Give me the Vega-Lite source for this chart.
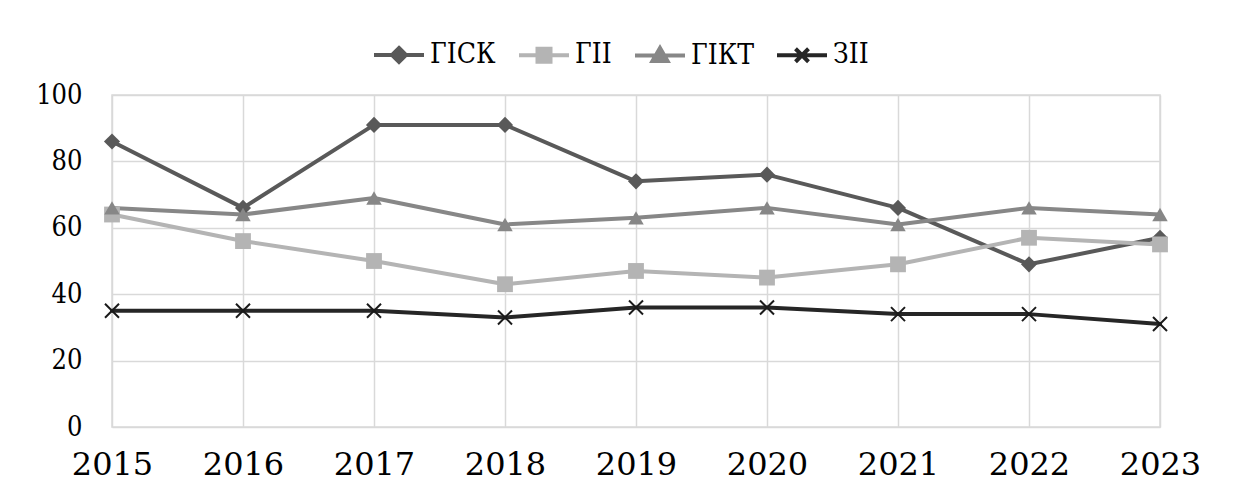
{
  "$schema": "https://vega.github.io/schema/vega-lite/v6.json",
  "width": 1048,
  "height": 332,
  "autosize": {"type": "none"},
  "padding": {"left": 112, "top": 95, "right": 87, "bottom": 55},
  "background": "white",
  "config": {
    "view": {"stroke": "#d9d9d9", "strokeWidth": 1.5},
    "font": "DejaVu Serif"
  },
  "data": {
    "values": [
      {"year": "2015", "s": "ГІСК", "v": 86},
      {"year": "2016", "s": "ГІСК", "v": 66},
      {"year": "2017", "s": "ГІСК", "v": 91},
      {"year": "2018", "s": "ГІСК", "v": 91},
      {"year": "2019", "s": "ГІСК", "v": 74},
      {"year": "2020", "s": "ГІСК", "v": 76},
      {"year": "2021", "s": "ГІСК", "v": 66},
      {"year": "2022", "s": "ГІСК", "v": 49},
      {"year": "2023", "s": "ГІСК", "v": 57},
      {"year": "2015", "s": "ГІІ", "v": 64},
      {"year": "2016", "s": "ГІІ", "v": 56},
      {"year": "2017", "s": "ГІІ", "v": 50},
      {"year": "2018", "s": "ГІІ", "v": 43},
      {"year": "2019", "s": "ГІІ", "v": 47},
      {"year": "2020", "s": "ГІІ", "v": 45},
      {"year": "2021", "s": "ГІІ", "v": 49},
      {"year": "2022", "s": "ГІІ", "v": 57},
      {"year": "2023", "s": "ГІІ", "v": 55},
      {"year": "2015", "s": "ГІКТ", "v": 66},
      {"year": "2016", "s": "ГІКТ", "v": 64},
      {"year": "2017", "s": "ГІКТ", "v": 69},
      {"year": "2018", "s": "ГІКТ", "v": 61},
      {"year": "2019", "s": "ГІКТ", "v": 63},
      {"year": "2020", "s": "ГІКТ", "v": 66},
      {"year": "2021", "s": "ГІКТ", "v": 61},
      {"year": "2022", "s": "ГІКТ", "v": 66},
      {"year": "2023", "s": "ГІКТ", "v": 64},
      {"year": "2015", "s": "ЗІІ", "v": 35},
      {"year": "2016", "s": "ЗІІ", "v": 35},
      {"year": "2017", "s": "ЗІІ", "v": 35},
      {"year": "2018", "s": "ЗІІ", "v": 33},
      {"year": "2019", "s": "ЗІІ", "v": 36},
      {"year": "2020", "s": "ЗІІ", "v": 36},
      {"year": "2021", "s": "ЗІІ", "v": 34},
      {"year": "2022", "s": "ЗІІ", "v": 34},
      {"year": "2023", "s": "ЗІІ", "v": 31}
    ]
  },
  "encoding": {
    "x": {
      "field": "year",
      "type": "ordinal",
      "scale": {"type": "point", "padding": 0},
      "axis": {
        "title": null,
        "labelAngle": 0,
        "labelFont": "DejaVu Serif",
        "labelFontSize": 32,
        "labelColor": "#000000",
        "labelPadding": 22,
        "labelDx": -6,
        "domain": false,
        "ticks": false,
        "grid": true,
        "gridColor": "#d9d9d9",
        "gridWidth": 1.5
      }
    },
    "y": {
      "field": "v",
      "type": "quantitative",
      "scale": {"domain": [0, 100], "nice": false},
      "axis": {
        "title": null,
        "values": [0, 20, 40, 60, 80, 100],
        "labelFont": "DejaVu Serif Condensed",
        "labelFontSize": 27,
        "labelColor": "#000000",
        "labelPadding": 30,
        "domain": false,
        "ticks": false,
        "grid": true,
        "gridColor": "#d9d9d9",
        "gridWidth": 1.5
      }
    }
  },
  "layer": [
    {
      "mark": {"type": "line", "strokeWidth": 4, "strokeJoin": "round", "strokeCap": "round"},
      "encoding": {
        "color": {
          "field": "s",
          "type": "nominal",
          "sort": ["ГІСК", "ГІІ", "ГІКТ", "ЗІІ"],
          "scale": {
            "domain": ["ГІСК", "ГІІ", "ГІКТ", "ЗІІ"],
            "range": ["#595959", "#b4b4b4", "#878787", "#262626"]
          },
          "legend": {
            "title": null,
            "orient": "none",
            "direction": "horizontal",
            "legendX": 260,
            "legendY": -67,
            "labelFont": "DejaVu Serif Condensed",
            "labelFontSize": 28,
            "labelColor": "#000000",
            "labelOffset": 4,
            "columnPadding": 15,
            "symbolSize": 2500,
            "symbolStrokeWidth": 4,
            "encode": {
              "labels": {
                "update": {
                  "font": {"value": "DejaVu Serif Condensed"}
                }
              },
              "symbols": {
                "update": {
                  "shape": {"signal": "datum.value === 'ГІСК' ? 'M-1,0H1M0,-0.28L0.28,0L0,0.28L-0.28,0Z' : datum.value === 'ГІІ' ? 'M-1,0H1M-0.26,-0.26H0.26V0.26H-0.26Z' : datum.value === 'ГІКТ' ? 'M-1,0H1M0,-0.3L0.3,0.22H-0.3Z' : 'M-1,0H1M-0.26,-0.26L0.26,0.26M0.26,-0.26L-0.26,0.26'"},
                  "fill": {"scale": "color", "field": "value"},
                  "stroke": {"scale": "color", "field": "value"},
                  "strokeWidth": {"value": 4},
                  "opacity": {"value": 1}
                }
              }
            }
          }
        }
      }
    },
    {
      "transform": [{"filter": "datum.s !== 'ЗІІ'"}],
      "mark": {"type": "point", "filled": true, "opacity": 1},
      "encoding": {
        "color": {"field": "s", "type": "nominal", "legend": null},
        "shape": {
          "field": "s",
          "type": "nominal",
          "scale": {
            "domain": ["ГІСК", "ГІІ", "ГІКТ"],
            "range": ["diamond", "square", "triangle-up"]
          },
          "legend": null
        },
        "size": {
          "field": "s",
          "type": "nominal",
          "scale": {"domain": ["ГІСК", "ГІІ", "ГІКТ"], "range": [260, 240, 280]},
          "legend": null
        }
      }
    },
    {
      "transform": [{"filter": "datum.s === 'ЗІІ'"}],
      "mark": {
        "type": "point",
        "filled": false,
        "shape": "M-1,-1L1,1M1,-1L-1,1",
        "size": 196,
        "stroke": "#1a1a1a",
        "strokeWidth": 2,
        "opacity": 1
      }
    }
  ]
}
